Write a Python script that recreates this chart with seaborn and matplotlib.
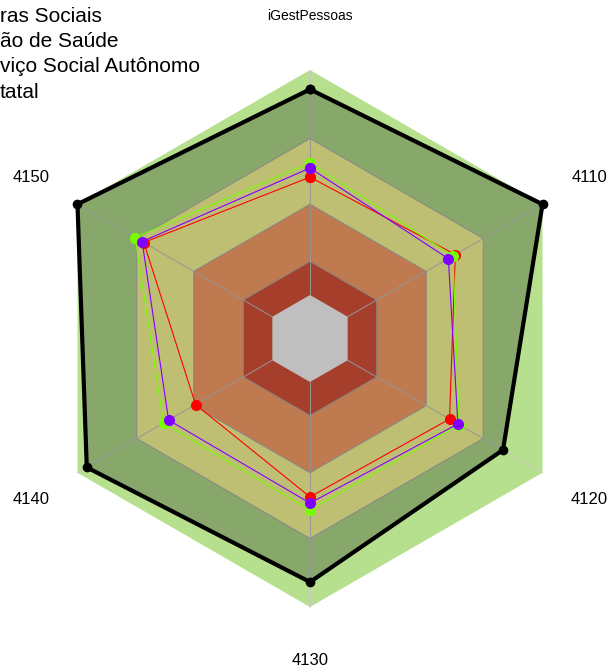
import numpy as np
import pandas as pd
import matplotlib
matplotlib.use("Agg")
import matplotlib.pyplot as plt
import seaborn as sns
from matplotlib.lines import Line2D

# ---- data -------------------------------------------------------------
categories = ["iGestPessoas", "4110", "4120", "4130", "4140", "4150"]
series_names = ["ras Sociais", "ão de Saúde", "viço Social Autônomo", "tatal"]
black_vals = [0.928, 1.00, 0.830, 0.907, 0.960, 1.00]
red_vals = [0.601, 0.625, 0.600, 0.590, 0.492, 0.715]
green_vals = [0.654, 0.615, 0.642, 0.639, 0.630, 0.752]
purple_vals = [0.635, 0.595, 0.636, 0.613, 0.608, 0.722]
band_edges = [0.162, 0.287, 0.500, 0.745, 1.0]
band_colors = ["#ffffff", "#dd553b", "#ffa36b", "#ffff9b", "#b6e08e"]
series_colors = ["#000000", "#ff0000", "#77ff00", "#8000ff"]

sns.set_theme(style="white")
plt.rcParams["font.family"] = ["Liberation Sans", "DejaVu Sans"]
plt.rcParams["text.color"] = "black"

n = len(categories)
angles = np.deg2rad(90 - np.arange(n) * 360.0 / n)


def to_xy(vals):
    v = np.asarray(vals, dtype=float)
    return v * np.cos(angles), v * np.sin(angles)


fig = plt.figure(figsize=(6.09, 6.71), dpi=100)
ax = fig.add_axes([0, 0, 1, 1])
R_px = 268.5
ax.set_xlim(-310 / R_px, 299 / R_px)
ax.set_ylim(-332.5 / R_px, 338.5 / R_px)
ax.set_axis_off()

# bands (outer first)
for edge, col in sorted(zip(band_edges, band_colors), reverse=True):
    hx, hy = to_xy([edge] * n)
    ax.fill(hx, hy, color=col, lw=0, zorder=1)

# grid
for edge in band_edges[1:-1]:
    hx, hy = to_xy([edge] * n)
    ax.plot(np.r_[hx, hx[0]], np.r_[hy, hy[0]], color="#b4b4b4", lw=0.7, zorder=1.5)
for a in angles:
    ax.plot([band_edges[0] * np.cos(a), np.cos(a)], [band_edges[0] * np.sin(a), np.sin(a)],
            color="#c8c8c8", lw=0.7, zorder=1.5)

# black series filled overlay
bx, by = to_xy(black_vals)
ax.fill(bx, by, color="black", alpha=0.25, lw=0, zorder=2)

# series
rows = []
for name, vals in zip(series_names, [black_vals, red_vals, green_vals, purple_vals]):
    x, y = to_xy(vals)
    x = np.r_[x, x[0]]
    y = np.r_[y, y[0]]
    for i in range(len(x)):
        rows.append({"series": name, "order": i, "x": x[i], "y": y[i]})
df = pd.DataFrame(rows)

widths = [3.0, 0.8, 0.8, 0.8]
msizes = [7, 8, 8, 8]
for k, (name, col) in enumerate(zip(series_names, series_colors)):
    sub = df[df["series"] == name]
    sns.lineplot(data=sub, x="x", y="y", sort=False, estimator=None, color=col,
                 lw=widths[k], marker="o", markersize=msizes[k], markeredgewidth=0,
                 ax=ax, zorder=5 + k, legend=False)
ax.set_xlabel("")
ax.set_ylabel("")

# axis labels
label_sizes = [10, 12, 12, 12, 12, 12]
for lab, a, fsz in zip(categories, angles, label_sizes):
    ax.text(1.2 * np.cos(a), 1.2 * np.sin(a), lab, ha="center", va="center",
            fontsize=fsz, color="black")

# legend (partially outside figure, as in reference)
handles = [Line2D([0], [0], color=c, lw=w) for c, w in zip(series_colors, widths)]
fs = 15
fs_px = fs * 100 / 72
off = (2.0 + 0.8) * fs_px
leg = fig.legend(handles, series_names, loc="upper left",
                 bbox_to_anchor=(-off / 609, 1 - 7 / 671), frameon=False,
                 fontsize=fs, borderpad=0, borderaxespad=0, handlelength=2.0,
                 handletextpad=0.8, labelspacing=0.30)
for t in leg.get_texts():
    t.set_color("black")

fig.savefig("out.png", dpi=100)
